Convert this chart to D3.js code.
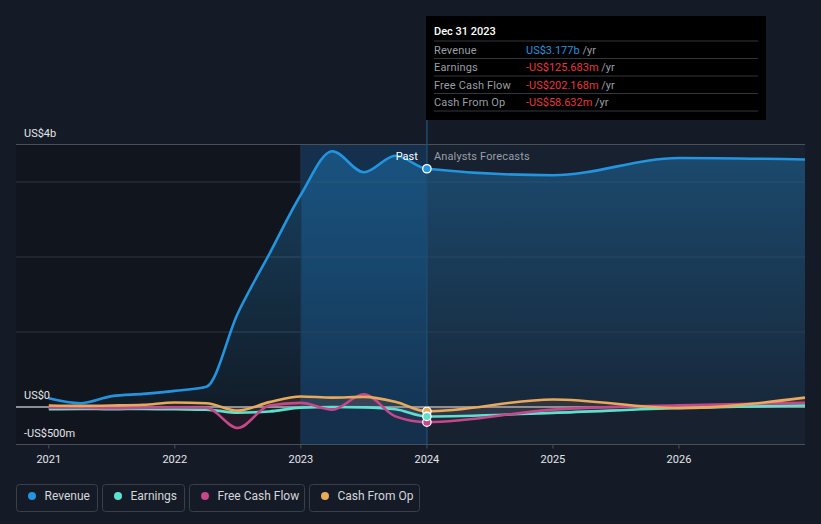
<!DOCTYPE html>
<html>
<head>
<meta charset="utf-8">
<script src="https://cdn.jsdelivr.net/npm/d3@7"></script>
<style>
  body { margin: 0; background: #151b26; }
  svg { display: block; font-family: Roboto, "Noto Sans", sans-serif; }
</style>
</head>
<body>
<script>
var width = 821, height = 524;

// quarterly history then analyst years (decimal years)
var pastDates = [2021, 2021.25, 2021.5, 2021.75, 2022, 2022.25, 2022.5, 2022.75, 2023, 2023.25, 2023.5, 2023.75, 2024];
var forecastDates = [2025, 2026, 2027];

// revenue in US$ b
var revenuePast = [0.116, 0.05, 0.145, 0.175, 0.215, 0.27, 1.25, 2.04, 2.83, 3.41, 3.13, 3.35, 3.177];
var revenueFc = [3.09, 3.32, 3.30];
// the rest in US$ m
var earningsPast = [-30, -25, -30, -25, -30, -35, -75, -60, -8, 0, -5, -30, -125.683];
var earningsFc = [-78, -13, 20];
var fcfPast = [-10, -10, -15, -10, -5, -10, -280, 20, 55, -35, 170, -125, -202.168];
var fcfFc = [-35, 22, 57];
var cfoPast = [20, 15, 20, 30, 60, 50, -48, 65, 140, 125, 135, 70, -58.632];
var cfoFc = [100, -15, 125];

var yTicks = [{v: 3.5, label: "US$4b"}, {v: 0, label: "US$0"}, {v: -0.5, label: "-US$500m"}];
var gridVals = [1, 2, 3];
var xTicks = [2021, 2022, 2023, 2024, 2025, 2026];

var series = [
  {name: "Revenue", color: "#2394df", past: revenuePast, fc: revenueFc, k: 1, tip: "US$3.177b"},
  {name: "Earnings", color: "#5ee0cf", past: earningsPast, fc: earningsFc, k: 1000, tip: "-US$125.683m"},
  {name: "Free Cash Flow", color: "#c4488a", past: fcfPast, fc: fcfFc, k: 1000, tip: "-US$202.168m"},
  {name: "Cash From Op", color: "#e8a95b", past: cfoPast, fc: cfoFc, k: 1000, tip: "-US$58.632m"}
];
var allDates = pastDates.concat(forecastDates);
series.forEach(function(s){
  s.data = s.past.concat(s.fc).map(function(v, i){ return [allDates[i], v / s.k]; });
});

var x = d3.scaleLinear().domain([2020.74, 2027]).range([16, 805]);
var y = d3.scaleLinear().domain([-0.5, 3.5]).range([444.5, 144.5]);

var svg = d3.select("body").append("svg").attr("width", width).attr("height", height);
var defs = svg.append("defs");

var grad = defs.append("linearGradient").attr("id", "revFill")
  .attr("gradientUnits", "userSpaceOnUse").attr("x1", 0).attr("x2", 0)
  .attr("y1", y(3.5)).attr("y2", y(0));
grad.append("stop").attr("offset", 0).attr("stop-color", "#2394df").attr("stop-opacity", 0.36);
grad.append("stop").attr("offset", 1).attr("stop-color", "#2394df").attr("stop-opacity", 0.06);

// background zones
svg.append("rect").attr("x", x.range()[0]).attr("y", y(3.5))
  .attr("width", x(2023) - x.range()[0]).attr("height", y(-0.5) - y(3.5)).attr("fill", "#11151d");
svg.append("rect").attr("x", x(2023)).attr("y", y(3.5))
  .attr("width", x(2024) - x(2023)).attr("height", y(-0.5) - y(3.5)).attr("fill", "#14263a");
svg.append("rect").attr("x", x(2024)).attr("y", y(3.5))
  .attr("width", x(2027) - x(2024)).attr("height", y(-0.5) - y(3.5)).attr("fill", "#172130");

// grid
svg.selectAll("line.grid").data(gridVals).enter().append("line")
  .attr("class", "grid")
  .attr("x1", x.range()[0]).attr("x2", x.range()[1])
  .attr("y1", function(d){ return y(d); }).attr("y2", function(d){ return y(d); })
  .attr("stroke", "#252d3a").attr("stroke-width", 1.5);

var curve = d3.curveMonotoneX;

// revenue area
var rev = series[0];
svg.append("path").datum(rev.data)
  .attr("d", d3.area().curve(curve).x(function(d){ return x(d[0]); }).y0(y(0)).y1(function(d){ return y(d[1]); }))
  .attr("fill", "url(#revFill)");

// highlight of the last reported year
svg.append("rect").attr("x", x(2023)).attr("y", y(3.5))
  .attr("width", x(2024) - x(2023)).attr("height", y(-0.5) - y(3.5))
  .attr("fill", "#1e8ce6").attr("opacity", 0.11);
svg.append("line").attr("x1", x(2023)).attr("x2", x(2023)).attr("y1", y(3.5)).attr("y2", y(-0.5))
  .attr("stroke", "#1d3550").attr("stroke-width", 1);

// top / bottom / zero lines
svg.append("line").attr("x1", x.range()[0]).attr("x2", x.range()[1]).attr("y1", y(3.5)).attr("y2", y(3.5))
  .attr("stroke", "#4a4f58").attr("stroke-width", 1);
svg.append("line").attr("x1", x.range()[0]).attr("x2", x.range()[1]).attr("y1", y(-0.5)).attr("y2", y(-0.5))
  .attr("stroke", "#4a4f58").attr("stroke-width", 1);
svg.append("line").attr("x1", x.range()[0]).attr("x2", x.range()[1]).attr("y1", y(0)).attr("y2", y(0))
  .attr("stroke", "#8b8e94").attr("stroke-width", 2);

// small series areas
series.slice(1).forEach(function(s){
  svg.append("path").datum(s.data)
    .attr("d", d3.area().curve(curve).x(function(d){ return x(d[0]); }).y0(y(0)).y1(function(d){ return y(d[1]); }))
    .attr("fill", s.color).attr("opacity", 0.1);
});

// lines
var line = d3.line().curve(curve).x(function(d){ return x(d[0]); }).y(function(d){ return y(d[1]); });
series.forEach(function(s){
  svg.append("path").datum(s.data).attr("d", line)
    .attr("fill", "none").attr("stroke", s.color).attr("stroke-width", 2.6);
});

// separator at the last report
svg.append("line").attr("x1", x(2024)).attr("x2", x(2024)).attr("y1", 120).attr("y2", y(-0.5))
  .attr("stroke", "#1f4b6e").attr("stroke-width", 1.5);

// markers
series.slice().reverse().forEach(function(s){
  var p = s.data[pastDates.length - 1];
  svg.append("circle").attr("cx", x(p[0])).attr("cy", y(p[1])).attr("r", 4.2)
    .attr("fill", s.color).attr("stroke", "#ffffff").attr("stroke-width", 1.3);
});

// y labels
svg.selectAll("text.ylab").data(yTicks).enter().append("text")
  .attr("x", 24).attr("y", function(d){ return y(d.v) - 8; })
  .attr("fill", "#e4e6ea").attr("font-size", 11).text(function(d){ return d.label; });

// x axis
var xAxis = svg.append("g").attr("transform", "translate(0," + y(-0.5) + ")");
xTicks.forEach(function(t){
  xAxis.append("line").attr("x1", x(t)).attr("x2", x(t)).attr("y1", 0).attr("y2", 4)
    .attr("stroke", "#4a4f58");
  xAxis.append("text").attr("x", x(t)).attr("y", 18).attr("text-anchor", "middle")
    .attr("fill", "#e4e6ea").attr("font-size", 11).text(t);
});

// past / forecast labels
svg.append("text").attr("x", x(2024) - 9).attr("y", 160).attr("text-anchor", "end")
  .attr("fill", "#ffffff").attr("font-size", 11).text("Past");
svg.append("text").attr("x", x(2024) + 7).attr("y", 160)
  .attr("fill", "#9a9ea5").attr("font-size", 11).attr("letter-spacing", 0.15).text("Analysts Forecasts");

// tooltip
var tip = svg.append("g");
tip.append("rect").attr("x", 426).attr("y", 16).attr("width", 340).attr("height", 104).attr("fill", "#000000");
tip.append("text").attr("x", 434).attr("y", 35).attr("fill", "#ffffff").attr("font-size", 11)
  .attr("font-weight", 500).text("Dec 31 2023");
var rowY = [49.5, 67, 84.5, 102];
[41, 58.5, 76, 93.5, 111].forEach(function(ly){
  tip.append("line").attr("x1", 434).attr("x2", 758).attr("y1", ly).attr("y2", ly)
    .attr("stroke", "#33363c").attr("stroke-width", 1);
});
series.forEach(function(s, i){
  tip.append("text").attr("x", 434).attr("y", rowY[i] + 4).attr("fill", "#9a9ea5")
    .attr("font-size", 11).attr("letter-spacing", 0.15).text(s.name);
  var t = tip.append("text").attr("x", 526).attr("y", rowY[i] + 4).attr("font-size", 11);
  t.append("tspan").attr("fill", i === 0 ? "#2394df" : "#e8373f").text(s.tip);
  t.append("tspan").attr("fill", "#9a9ea5").text(" /yr");
});

// legend
var legendX = [16.5, 102.5, 189.5, 309.5];
var legendW = [81, 82, 115, 110];
series.forEach(function(s, i){
  var g = svg.append("g").attr("transform", "translate(" + legendX[i] + ",484.5)");
  g.append("rect").attr("width", legendW[i]).attr("height", 27).attr("rx", 3)
    .attr("fill", "none").attr("stroke", "#3a3f49");
  g.append("circle").attr("cx", 15.5).attr("cy", 11.5).attr("r", 4).attr("fill", s.color);
  g.append("text").attr("x", 28).attr("y", 15.5).attr("fill", "#d4d6da").attr("font-size", 12).text(s.name);
});
</script>
</body>
</html>
